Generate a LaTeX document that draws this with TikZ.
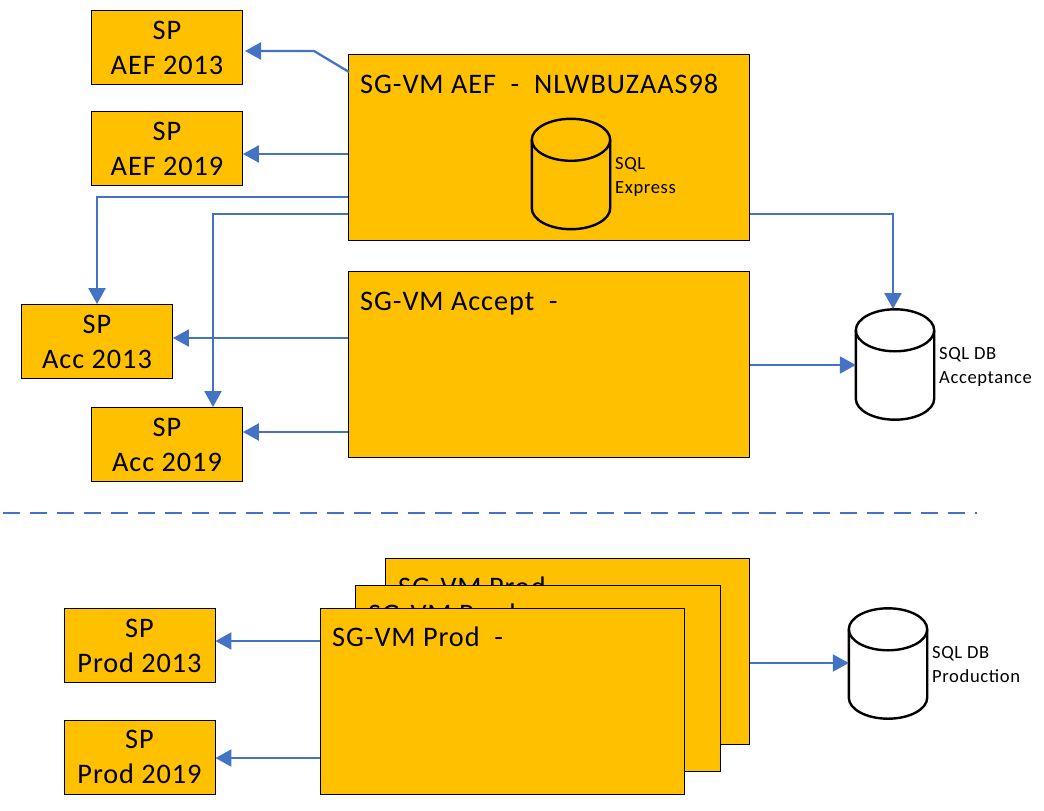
\documentclass[tikz,border=0pt]{standalone}
\usepackage{fontspec}
\setmainfont[LetterSpace=3.3]{Carlito}
\usetikzlibrary{arrows.meta}
\definecolor{boxfill}{HTML}{FFC000}
\definecolor{linkblue}{HTML}{4472C4}
\tikzset{
  spbox/.style={draw=black,line width=0.9pt,fill=boxfill,minimum width=151pt,minimum height=74pt,inner sep=0pt,align=center,xshift=-0.5pt,yshift=0.5pt,font=\fontsize{28.3}{35}\selectfont},
  vmbox/.style={draw=black,line width=0.9pt,fill=boxfill,inner sep=0pt,xshift=-0.5pt,yshift=0.5pt},
  vmtitle/.style={anchor=base west,inner sep=0pt,font=\fontsize{28.3}{31}\selectfont},
  smalltext/.style={anchor=base west,inner sep=0pt,font=\fontsize{18.6}{24}\selectfont},
  dbanchor/.style={minimum width=78pt,minimum height=110pt,inner sep=0pt},
  dbline/.style={draw=black,line width=2.4pt},
  link/.style={draw=linkblue,line width=2.3pt,-{Triangle[length=16pt,width=17pt]}},
  divider/.style={draw=linkblue,line width=1.9pt,dash pattern=on 17pt off 10pt}
}
% cylinder drawn around a named node: #1 node name, #2 fill colour
\newcommand{\dbcyl}[2]{%
  \path[dbline,fill=#2]
    ([yshift=-21pt]#1.north west)
    .. controls ([yshift=-9.4pt]#1.north west) and ([xshift=-21.5pt]#1.north) .. (#1.north)
    .. controls ([xshift=21.5pt]#1.north) and ([yshift=-9.4pt]#1.north east) .. ([yshift=-21pt]#1.north east)
    -- ([yshift=21pt]#1.south east)
    .. controls ([yshift=9.4pt]#1.south east) and ([xshift=21.5pt]#1.south) .. (#1.south)
    .. controls ([xshift=-21.5pt]#1.south) and ([yshift=9.4pt]#1.south west) .. ([yshift=21pt]#1.south west)
    -- cycle;
  \path[dbline]
    ([yshift=-21pt]#1.north west)
    .. controls ([yshift=-32.6pt]#1.north west) and ([xshift=-21.5pt,yshift=-42pt]#1.north) .. ([yshift=-42pt]#1.north)
    .. controls ([xshift=21.5pt,yshift=-42pt]#1.north) and ([yshift=-32.6pt]#1.north east) .. ([yshift=-21pt]#1.north east);
}
\begin{document}
\begin{tikzpicture}[x=1pt,y=-1pt]
\useasboundingbox (0,0) rectangle (1044,811);
\node[spbox] (spaef13) at (167.5,48) {SP\\AEF 2013};
\node[spbox] (spaef19) at (167.5,149) {SP\\AEF 2019};
\node[spbox] (spacc13) at (97.5,342) {SP\\Acc 2013};
\node[spbox] (spacc19) at (167.5,445) {SP\\Acc 2019};
\node[spbox] (spprod13) at (140,646) {SP\\Prod 2013};
\node[spbox] (spprod19) at (140,757.5) {SP\\Prod 2019};

\node[vmbox,minimum width=401pt,minimum height=186pt] (aef) at (549.5,148) {};
\node[vmtitle] (aeft) at (360,93) {SG-VM AEF\ \ -\ \ NLWBUZAAS98};
\node[dbanchor] (sqlx) at (571,174) {};
\dbcyl{sqlx}{boxfill}
\node[smalltext] (sqlxa) at (615,169) {SQL};
\node[smalltext] (sqlxb) at (615,193) {Express};

\node[vmbox,minimum width=401pt,minimum height=186pt] (acc) at (549.5,365) {};
\node[vmtitle] (acct) at (360,310) {SG-VM Accept\ \ -};

\node[dbanchor] (sqla) at (895,364.5) {};
\dbcyl{sqla}{white}
\node[smalltext] (sqlaa) at (939,359) {SQL DB};
\node[smalltext] (sqlab) at (939,383) {Acceptance};

\node[vmbox,minimum width=364pt,minimum height=186pt] (prodc) at (568,652) {};
\node[vmtitle] (prodct) at (398,596) {SG-VM Prod};
\node[vmbox,minimum width=365pt,minimum height=186pt] (prodb) at (538.5,679) {};
\node[vmtitle] (prodbt) at (368,623) {SG-VM Prod};
\node[vmbox,minimum width=364pt,minimum height=186pt] (proda) at (503,702) {};
\node[vmtitle] (prodat) at (332,646) {SG-VM Prod\ \ -};

\node[dbanchor] (sqlp) at (888,663.5) {};
\dbcyl{sqlp}{white}
\node[smalltext] (sqlpa) at (932,658) {SQL DB};
\node[smalltext] (sqlpb) at (932,682) {Production};

\coordinate (a1) at (349,72);
\coordinate (a1k) at (314,51);
\coordinate (a1e) at (245,51);
\draw[link] (a1) -- (a1k) -- (a1e);
\draw[link] (aef.west |- 0,154) -- (spaef19.east |- 0,154);
\draw[link] (aef.west |- 0,197) -- (spacc13.north |- 0,197) -- (spacc13.north);
\draw[link] (aef.west |- 0,214) -- (213,214) -- (spacc19.north -| 213,0);
\draw[link] (acc.west |- 0,338) -- (spacc13.east |- 0,338);
\draw[link] (acc.west |- 0,432) -- (spacc19.east |- 0,432);
\draw[link] (aef.east |- 0,214) -- (893,214) -- (893,309);
\draw[link] (acc.east |- 0,365) -- (sqla.west |- 0,365);
\draw[link] (prodc.east |- 0,663) -- (sqlp.west |- 0,663);
\draw[link] (proda.west |- 0,641) -- (spprod13.east |- 0,641);
\draw[link] (proda.west |- 0,758) -- (spprod19.east |- 0,758);

\coordinate (d1) at (3,513);
\coordinate (d2) at (977,513);
\draw[divider] (d1) -- (d2);
\end{tikzpicture}
\end{document}
